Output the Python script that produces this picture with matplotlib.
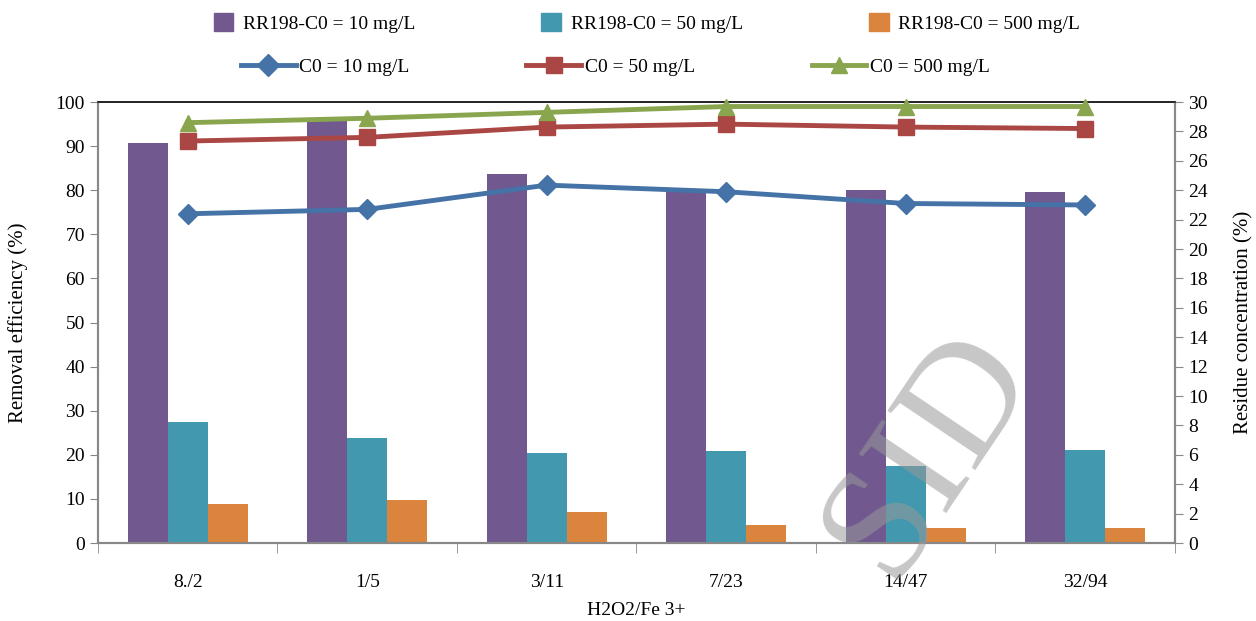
import numpy as np
import matplotlib
matplotlib.use('Agg')
import matplotlib.pyplot as plt
from matplotlib.lines import Line2D
from matplotlib.patches import Patch

plt.rcParams['font.family'] = ['Liberation Serif', 'DejaVu Serif']

ratios = ['8./2', '1/5', '3/11', '7/23', '14/47', '32/94']
eff_10 = [90.7, 95.9, 83.7, 80.2, 80.0, 79.6]
eff_50 = [27.4, 23.8, 20.4, 20.9, 17.5, 21.1]
eff_500 = [8.8, 9.7, 7.0, 4.1, 3.4, 3.4]
res_10 = [22.4, 22.7, 24.35, 23.9, 23.1, 23.0]
res_50 = [27.35, 27.6, 28.3, 28.5, 28.3, 28.2]
res_500 = [28.6, 28.9, 29.3, 29.7, 29.7, 29.7]

bar_labels = ['RR198-C0 = 10 mg/L', 'RR198-C0 = 50 mg/L', 'RR198-C0 = 500 mg/L']
line_labels = ['C0 = 10 mg/L', 'C0 = 50 mg/L', 'C0 = 500 mg/L']
bar_cols = ['#71588f', '#4198af', '#db843d']
line_cols = ['#4572a7', '#aa4643', '#89a54e']

fig = plt.figure(figsize=(12.56, 6.21), dpi=100)
ax = fig.add_axes([0.078, 0.1256, 0.8575, 0.71])
ax2 = ax.twinx()

x = np.arange(len(ratios))
w = 0.223
for i, (vals, c) in enumerate(zip([eff_10, eff_50, eff_500], bar_cols)):
    ax.bar(x + (i - 1) * w, vals, w, color=c, zorder=2)

for vals, c, m, ms in zip([res_10, res_50, res_500], line_cols, ['D', 's', '^'], [10, 12, 12]):
    ax2.plot(x, vals, color=c, marker=m, markersize=ms, linewidth=3.5, zorder=3, clip_on=False)

ax.set_xlim(-0.5, len(ratios) - 0.5)
ax.set_ylim(0, 100)
ax.set_yticks(range(0, 101, 10))
ax2.set_ylim(0, 30)
ax2.set_yticks(range(0, 31, 2))
ax.set_xticks(x)
ax.set_xticklabels(ratios)
ax.set_xticks(np.arange(-0.5, len(ratios), 1), minor=True)
ax.tick_params(axis='x', which='major', length=0, pad=22, labelsize=14)
ax.tick_params(axis='x', which='minor', length=7, color='#888888', direction='out')
ax.tick_params(axis='y', length=6, color='#888888', labelsize=14)
ax2.tick_params(axis='y', length=6, color='#888888', labelsize=14)

for a in (ax, ax2):
    for s in ['left', 'right', 'bottom']:
        a.spines[s].set_color('#888888')
        a.spines[s].set_linewidth(1.5)
    a.spines['top'].set_color('#222222')
    a.spines['top'].set_linewidth(1.2)
ax2.set_zorder(ax.get_zorder() + 1)
ax2.patch.set_visible(False)

ax.set_xlabel('H2O2/Fe 3+', fontsize=14, labelpad=8)
ax.set_ylabel('Removal efficiency (%)', fontsize=15, labelpad=20)
ax2.set_ylabel('Residue concentration (%)', fontsize=15, labelpad=19)

# watermark
fig.text(0.74, 0.27, 'SID', fontsize=115, color='#999999', alpha=0.55,
         rotation=56, ha='center', va='center', zorder=10)

h1 = [Patch(color=c) for c in bar_cols]
fig.legend(h1, bar_labels, loc='center', bbox_to_anchor=(0.515, 0.963), ncol=3,
           frameon=False, fontsize=14, handlelength=1.0, handleheight=1.0,
           columnspacing=6.5, handletextpad=0.5)
h2 = [Line2D([], [], color=c, marker=m, markersize=11, linewidth=3.5)
      for c, m in zip(line_cols, ['D', 's', '^'])]
fig.legend(h2, line_labels, loc='center', bbox_to_anchor=(0.49, 0.892), ncol=3,
           frameon=False, fontsize=14, handlelength=2.8,
           columnspacing=6.0, handletextpad=0.2)

fig.savefig('out.png', dpi=100)
